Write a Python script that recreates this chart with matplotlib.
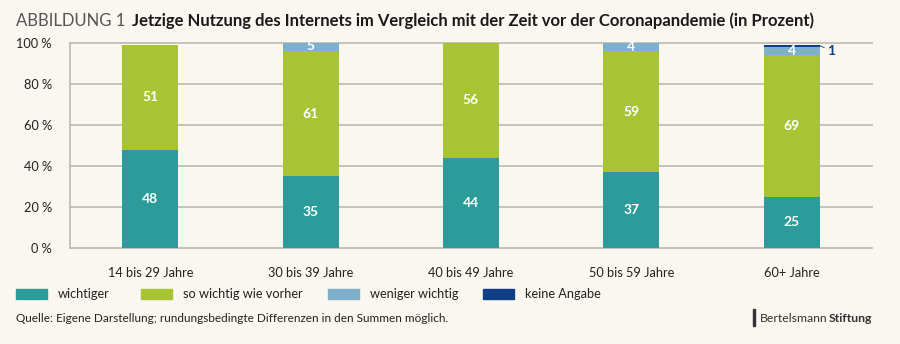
import matplotlib
matplotlib.use("Agg")
import matplotlib.pyplot as plt
from matplotlib.patches import Rectangle
import numpy as np

plt.rcParams['font.family'] = ['Lato', 'DejaVu Sans']

categories = ["14 bis 29 Jahre", "30 bis 39 Jahre", "40 bis 49 Jahre", "50 bis 59 Jahre", "60+ Jahre"]
series_names = ["wichtiger", "so wichtig wie vorher", "weniger wichtig", "keine Angabe"]
wichtiger = [48, 35, 44, 37, 25]
so_wichtig = [51, 61, 56, 59, 69]
weniger_wichtig = [0, 5, 0, 4, 4]
keine_angabe = [0, 0, 0, 0, 1]
y_ticks = [0, 20, 40, 60, 80, 100]
y_tick_labels = ["0 %", "20 %", "40 %", "60 %", "80 %", "100 %"]

colors = ["#2b9c99", "#a8c434", "#7cb0cc", "#0e3f86"]
bg = "#faf6f0"
grid_col = "#bdb8b1"
txt = "#222222"

W, H = 900, 344
fig = plt.figure(figsize=(W / 100, H / 100), dpi=100, facecolor=bg)
ax = fig.add_axes([70 / W, (H - 248) / H, (872 - 70) / W, (248 - 43) / H])
ax.set_facecolor(bg)

x = np.arange(len(categories))
width = 0.35
bottom = np.zeros(len(categories))
series = [wichtiger, so_wichtig, weniger_wichtig, keine_angabe]
for vals, col in zip(series, colors):
    vals = np.array(vals, dtype=float)
    ax.bar(x, vals, width, bottom=bottom, color=col, zorder=3, linewidth=0)
    bottom += vals

# value labels inside segments
bottom = np.zeros(len(categories))
for si, vals in enumerate(series[:3]):
    for i, v in enumerate(vals):
        if v > 0:
            yc = bottom[i] + v / 2
            ax.text(x[i], yc, f"{v}", ha="center", va="center", color="white",
                    fontsize=10, fontweight="bold", zorder=5)
    bottom += np.array(vals, dtype=float)

# small-value label with leader line for "keine Angabe"
for i, v in enumerate(keine_angabe):
    if v > 0:
        top = bottom[i] + v
        ax.annotate(f"{v}", xy=(x[i] + width / 2, top - 0.3),
                    xytext=(x[i] + width / 2 + 0.045, top - 2.8),
                    ha="left", va="center", color=colors[3], fontsize=10,
                    fontweight="bold", zorder=5, annotation_clip=False,
                    arrowprops=dict(arrowstyle="-", color=colors[3], lw=0.6,
                                    shrinkA=0, shrinkB=0))

ax.set_xlim(-0.5, len(categories) - 0.5)
ax.set_ylim(0, 100)
ax.set_yticks(y_ticks)
ax.set_yticklabels(y_tick_labels, fontsize=9.2, color=txt)
ax.set_xticks(x)
ax.set_xticklabels(categories, fontsize=9.2, color=txt)
ax.tick_params(axis="both", length=0)
ax.tick_params(axis="y", pad=13)
ax.tick_params(axis="x", pad=14)
for y in y_ticks:
    ax.axhline(y, color=grid_col, lw=1.2, zorder=1, clip_on=False)
for s in ["top", "right", "bottom"]:
    ax.spines[s].set_visible(False)
ax.spines["left"].set_color(grid_col)
ax.spines["left"].set_linewidth(1.2)

# title
t1 = fig.text(16 / W, 1 - 21 / H, "ABBILDUNG 1", fontsize=12, color="#555555",
              va="center", ha="left")
fig.canvas.draw()
bb = t1.get_window_extent()
fig.text((bb.x1 + 7) / W, 1 - 21 / H,
         "Jetzige Nutzung des Internets im Vergleich mit der Zeit vor der Coronapandemie (in Prozent)",
         fontsize=12, color="#1a1a1a", va="center", ha="left", fontweight="bold")

# legend
leg_x = [16, 141, 328, 483]
leg_y = 1 - 294 / H
for lx, name, col in zip(leg_x, series_names, colors):
    fig.patches.append(Rectangle((lx / W, leg_y - 5 / H), 31 / W, 10 / H,
                                 transform=fig.transFigure, color=col, figure=fig))
    fig.text((lx + 42) / W, leg_y, name, fontsize=9.2, color=txt,
             va="center", ha="left")

# source note
fig.text(16 / W, 1 - 318 / H,
         "Quelle: Eigene Darstellung; rundungsbedingte Differenzen in den Summen möglich.",
         fontsize=8.5, color=txt, va="center", ha="left")

# logo text
fig.patches.append(Rectangle((753 / W, 1 - 326 / H), 1.5 / W, 17 / H,
                             transform=fig.transFigure, color="#333333", figure=fig))
t2 = fig.text(760 / W, 1 - 318 / H, "Bertelsmann", fontsize=8.8, color="#333333",
              va="center", ha="left")
fig.canvas.draw()
bb2 = t2.get_window_extent()
fig.text((bb2.x1 + 1) / W, 1 - 318 / H, "Stiftung", fontsize=8.8, color="#333333",
         va="center", ha="left", fontweight="bold")

fig.savefig("out.png", dpi=100, facecolor=bg)
